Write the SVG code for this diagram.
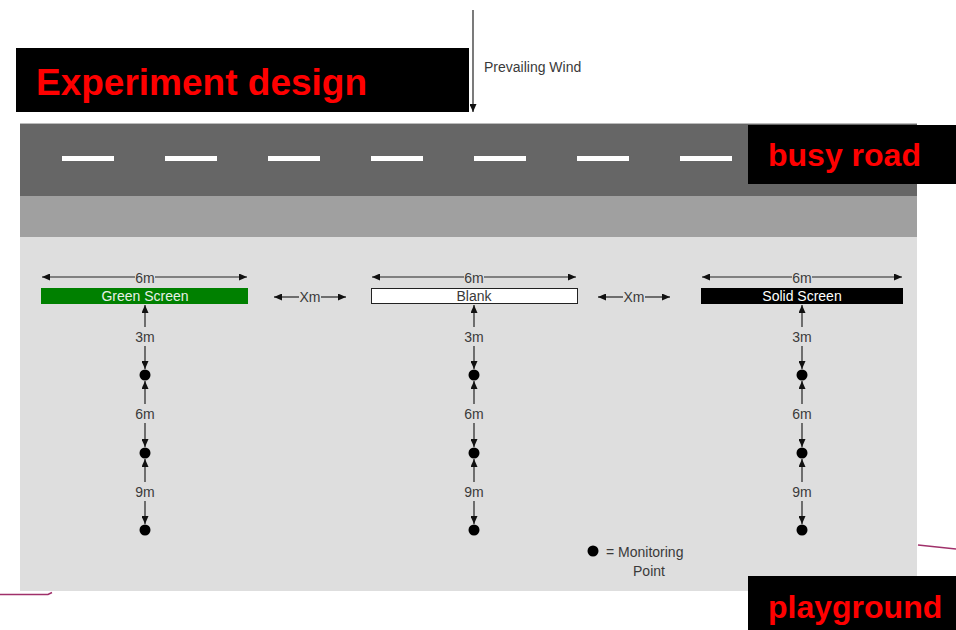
<svg xmlns="http://www.w3.org/2000/svg" width="956" height="630" viewBox="0 0 956 630">
<defs>
<marker id="ah" markerWidth="8" markerHeight="7" refX="8" refY="3.5" orient="auto-start-reverse" markerUnits="userSpaceOnUse">
<path d="M0,0 L8,3.5 L0,7 z" fill="#111"/>
</marker>
<style>
.lbl{font-family:"Liberation Sans",Arial,sans-serif;font-size:14px;fill:#3a3a3a;text-anchor:middle}
.big{font-family:"Liberation Sans",Arial,sans-serif;font-weight:bold;fill:#ff0000}
.dim{stroke:#222;stroke-width:1.2;fill:none;marker-end:url(#ah)}
.dash{fill:#fff}
.dot{fill:#000}
.pur{stroke:#a0306a;stroke-width:1.5;fill:none}
</style>
</defs>
<rect width="956" height="630" fill="#fff"/>

<g id="site">
<rect x="20" y="123" width="897" height="468" fill="#dedede"/>
<rect x="20" y="123" width="897" height="73" fill="#666"/>
<line x1="20" y1="123.5" x2="917" y2="123.5" stroke="#bbb" stroke-width="1"/>
<rect x="20" y="196" width="897" height="41" fill="#a0a0a0"/>
<rect class="dash" x="62" y="156" width="52" height="5"/>
<rect class="dash" x="165" y="156" width="52" height="5"/>
<rect class="dash" x="268" y="156" width="52" height="5"/>
<rect class="dash" x="371" y="156" width="52" height="5"/>
<rect class="dash" x="474" y="156" width="52" height="5"/>
<rect class="dash" x="577" y="156" width="52" height="5"/>
<rect class="dash" x="680" y="156" width="52" height="5"/>
</g>

<g id="title">
<rect x="16" y="48" width="453" height="64" fill="#000"/>
<text class="big" x="36" y="95" font-size="37">Experiment design</text>
</g>

<g id="wind">
<line class="dim" x1="473" y1="10" x2="473" y2="112"/>
<text class="lbl" x="484" y="72" font-size="14" style="text-anchor:start">Prevailing Wind</text>
</g>

<g id="busy-road">
<rect x="748" y="125" width="208" height="59" fill="#000"/>
<text class="big" x="768" y="166" font-size="32">busy road</text>
</g>

<g id="playground">
<rect x="748" y="576" width="208" height="54" fill="#000"/>
<text class="big" x="768" y="618" font-size="32">playground</text>
</g>

<g id="purple-lines">
<path class="pur" d="M918,545 L956,549"/>
<path class="pur" d="M0,594.5 L48,594.5 L52,592.5"/>
</g>

<g id="green-screen">
<rect x="41" y="288" width="207" height="16" fill="#008000"/>
<text class="lbl" x="145" y="301" style="fill:#e8f0e8">Green Screen</text>
</g>
<g id="blank">
<rect x="371.5" y="288.5" width="206" height="15" fill="#fff" stroke="#222" stroke-width="1"/>
<text class="lbl" x="474" y="301">Blank</text>
</g>
<g id="solid-screen">
<rect x="701" y="288" width="202" height="16" fill="#000"/>
<text class="lbl" x="802" y="301" style="fill:#fff">Solid Screen</text>
</g>

<g id="points">
<circle class="dot" cx="145" cy="375" r="5.5"/>
<circle class="dot" cx="145" cy="453" r="5.5"/>
<circle class="dot" cx="145" cy="530" r="5.5"/>
<circle class="dot" cx="474" cy="375" r="5.5"/>
<circle class="dot" cx="474" cy="453" r="5.5"/>
<circle class="dot" cx="474" cy="530" r="5.5"/>
<circle class="dot" cx="802" cy="375" r="5.5"/>
<circle class="dot" cx="802" cy="453" r="5.5"/>
<circle class="dot" cx="802" cy="530" r="5.5"/>
</g>

<g id="legend">
<circle class="dot" cx="593" cy="551" r="5.5"/>
<text class="lbl" x="606" y="557" style="text-anchor:start">= Monitoring</text>
<text class="lbl" x="649" y="576">Point</text>
</g>

<g id="connectors">
<line class="dim" x1="135" y1="277" x2="42" y2="277"/>
<line class="dim" x1="155" y1="277" x2="247" y2="277"/>
<line class="dim" x1="464" y1="277" x2="372" y2="277"/>
<line class="dim" x1="484" y1="277" x2="576" y2="277"/>
<line class="dim" x1="792" y1="277" x2="702" y2="277"/>
<line class="dim" x1="812" y1="277" x2="902" y2="277"/>
<line class="dim" x1="299" y1="297" x2="274" y2="297"/>
<line class="dim" x1="321" y1="297" x2="346" y2="297"/>
<line class="dim" x1="623" y1="297" x2="598" y2="297"/>
<line class="dim" x1="645" y1="297" x2="670" y2="297"/>
<line class="dim" x1="145" y1="327" x2="145" y2="305"/>
<line class="dim" x1="145" y1="346" x2="145" y2="369"/>
<line class="dim" x1="145" y1="404" x2="145" y2="381"/>
<line class="dim" x1="145" y1="423" x2="145" y2="447"/>
<line class="dim" x1="145" y1="482" x2="145" y2="459"/>
<line class="dim" x1="145" y1="501" x2="145" y2="524"/>
<line class="dim" x1="474" y1="327" x2="474" y2="305"/>
<line class="dim" x1="474" y1="346" x2="474" y2="369"/>
<line class="dim" x1="474" y1="404" x2="474" y2="381"/>
<line class="dim" x1="474" y1="423" x2="474" y2="447"/>
<line class="dim" x1="474" y1="482" x2="474" y2="459"/>
<line class="dim" x1="474" y1="501" x2="474" y2="524"/>
<line class="dim" x1="802" y1="327" x2="802" y2="305"/>
<line class="dim" x1="802" y1="346" x2="802" y2="369"/>
<line class="dim" x1="802" y1="404" x2="802" y2="381"/>
<line class="dim" x1="802" y1="423" x2="802" y2="447"/>
<line class="dim" x1="802" y1="482" x2="802" y2="459"/>
<line class="dim" x1="802" y1="501" x2="802" y2="524"/>
</g>

<g id="dim-labels">
<text class="lbl" x="145" y="283">6m</text>
<text class="lbl" x="474" y="283">6m</text>
<text class="lbl" x="802" y="283">6m</text>
<text class="lbl" x="310" y="302">Xm</text>
<text class="lbl" x="634" y="302">Xm</text>
<text class="lbl" x="145" y="342">3m</text>
<text class="lbl" x="145" y="419">6m</text>
<text class="lbl" x="145" y="497">9m</text>
<text class="lbl" x="474" y="342">3m</text>
<text class="lbl" x="474" y="419">6m</text>
<text class="lbl" x="474" y="497">9m</text>
<text class="lbl" x="802" y="342">3m</text>
<text class="lbl" x="802" y="419">6m</text>
<text class="lbl" x="802" y="497">9m</text>
</g>
</svg>
